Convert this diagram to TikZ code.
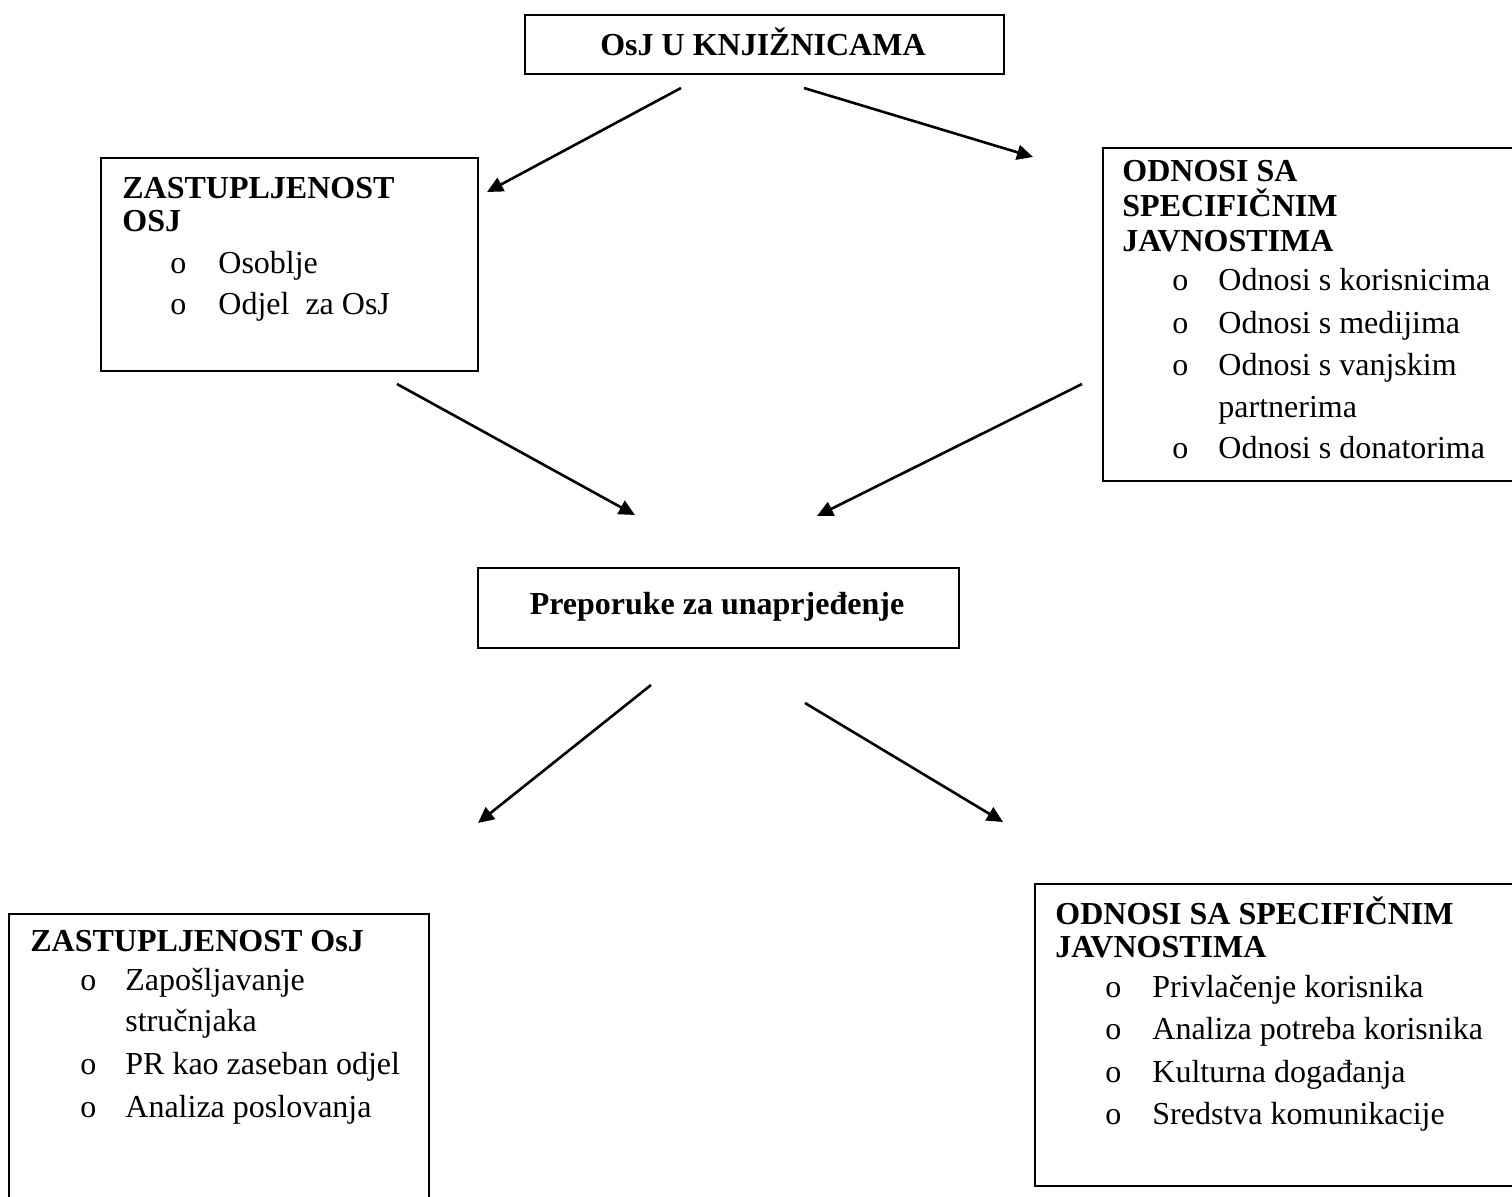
\documentclass[tikz,border=0pt]{standalone}
\usepackage{fontspec}
\setmainfont{Liberation Serif}
\usetikzlibrary{arrows.meta}
\begin{document}
\begin{tikzpicture}[x=0.5pt,y=-0.5pt,
  box/.style={draw=black,line width=1pt,inner sep=0pt,anchor=north west,fill=none},
  txt/.style={inner sep=0pt,anchor=base west,font=\fontsize{16}{20}\selectfont},
  hd/.style={txt,font=\fontsize{16}{20}\selectfont\bfseries},
  bul/.style={inner sep=0pt,anchor=base west,font=\fontsize{16}{20}\selectfont},
  arr/.style={line width=1.3pt,-{Triangle[length=8pt,width=7.5pt]}}]
\useasboundingbox[fill=white] (0,0) rectangle (1512,1196);
% boxes
\node[box,minimum width=239.5pt,minimum height=29.5pt] (top) at (524,14) {};
\node[box,minimum width=188.5pt,minimum height=106.5pt] (tl) at (100,157) {};
\node[box,minimum width=214pt,minimum height=166.5pt] (tr) at (1102,147) {};
\node[box,minimum width=240.5pt,minimum height=40pt] (mid) at (477,567) {};
\node[box,minimum width=210pt,minimum height=148.5pt] (bl) at (8,913) {};
\node[box,minimum width=248pt,minimum height=151pt] (br) at (1034,883) {};
% top title
\node[hd,anchor=base] (toptxt) at (763,55) {OsJ U KNJIŽNICAMA};
% top-left
\node[hd] (tlh1) at (122,198) {ZASTUPLJENOST};
\node[hd] (tlh2) at (122,231) {OSJ};
\node[bul] (tlb1) at (170,273) {o};
\node[txt] (tlt1) at (218,273) {Osoblje};
\node[bul] (tlb2) at (170,314) {o};
\node[txt] (tlt2) at (218,314) {Odjel\ \ za OsJ};
% top-right
\node[hd] (trh1) at (1122,181) {ODNOSI SA};
\node[hd] (trh2) at (1122,216) {SPECIFIČNIM};
\node[hd] (trh3) at (1122,251) {JAVNOSTIMA};
\node[bul] (trb1) at (1172,290) {o};
\node[txt] (trt1) at (1218,290) {Odnosi s korisnicima};
\node[bul] (trb2) at (1172,333) {o};
\node[txt] (trt2) at (1218,333) {Odnosi s medijima};
\node[bul] (trb3) at (1172,375) {o};
\node[txt] (trt3) at (1218,375) {Odnosi s vanjskim};
\node[txt] (trt3b) at (1218,417) {partnerima};
\node[bul] (trb4) at (1172,458) {o};
\node[txt] (trt4) at (1218,458) {Odnosi s donatorima};
% middle
\node[hd,anchor=base] (midtxt) at (717,614) {Preporuke za unaprjeđenje};
% bottom-left
\node[hd] (blh1) at (30,951) {ZASTUPLJENOST OsJ};
\node[bul] (blb1) at (80,990) {o};
\node[txt] (blt1) at (125,990) {Zapošljavanje};
\node[txt] (blt1b) at (125,1031) {stručnjaka};
\node[bul] (blb2) at (80,1074) {o};
\node[txt] (blt2) at (125,1074) {PR kao zaseban odjel};
\node[bul] (blb3) at (80,1117) {o};
\node[txt] (blt3) at (125,1117) {Analiza poslovanja};
% bottom-right
\node[hd] (brh1) at (1055,924) {ODNOSI SA SPECIFIČNIM};
\node[hd] (brh2) at (1055,957) {JAVNOSTIMA};
\node[bul] (brb1) at (1105,997) {o};
\node[txt] (brt1) at (1152,997) {Privlačenje korisnika};
\node[bul] (brb2) at (1105,1039) {o};
\node[txt] (brt2) at (1152,1039) {Analiza potreba korisnika};
\node[bul] (brb3) at (1105,1082) {o};
\node[txt] (brt3) at (1152,1082) {Kulturna događanja};
\node[bul] (brb4) at (1105,1124) {o};
\node[txt] (brt4) at (1152,1124) {Sredstva komunikacije};
% arrow end points
\coordinate (a1s) at (681,88);  \coordinate (a1e) at (487,192);
\coordinate (a2s) at (804,88);  \coordinate (a2e) at (1033,157);
\coordinate (a3s) at (397,384); \coordinate (a3e) at (635,515);
\coordinate (a4s) at (1082,384);\coordinate (a4e) at (817,516);
\coordinate (a5s) at (651,685); \coordinate (a5e) at (478,823);
\coordinate (a6s) at (805,703); \coordinate (a6e) at (1003,822);
\draw[arr] (a1s) -- (a1e);
\draw[arr] (a2s) -- (a2e);
\draw[arr] (a3s) -- (a3e);
\draw[arr] (a4s) -- (a4e);
\draw[arr] (a5s) -- (a5e);
\draw[arr] (a6s) -- (a6e);
\end{tikzpicture}
\end{document}
